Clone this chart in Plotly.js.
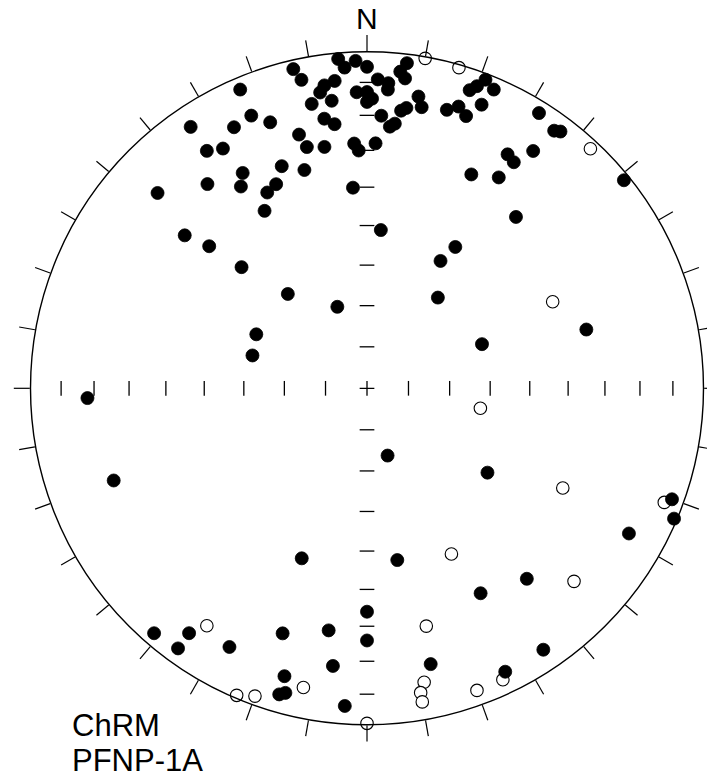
<!DOCTYPE html>
<html>
<head>
<meta charset="utf-8">
<script src="https://cdn.plot.ly/plotly-3.0.1.min.js"></script>
<style>html,body{margin:0;padding:0;background:#fff;}#plot{width:707px;height:780px;}</style>
</head>
<body>
<div id="plot"></div>
<script>
// ChRM directions, site PFNP-1A: declination (deg) and inclination (deg, negative = upper hemisphere)
const dec = [
  355,356,358,0,7,6,7,347,348,354,352,351,353,349,358,0,1,0,2,4,4,
  351,353,3,5,6,7,8,10,11,16,18,20,19,20,21,22,23,
  337,340,345,346,350,357,358,2,339,344,336,333,356,26,32,32,36,37,51,
  31,33,35,41,32,30,38,5,337,326,333,326,329,330,322,328,330,313,310,312,314,
  320,340,296,286,69,75,
  268,250,163,125,201,170,110,113,119,151,140,146,154,180,199,189,180,187,167,
  196,196,195,184,221,216,216,208,
  10,16,43,65,100,117,111,133,153,166,155,160,192,200,203,214,169,170,170,180
];
const inc = [
  2,5,3,5,3,6,8,3,7,9,10,12,15,15,13,13,15,16,9,10,12,
  20,22,20,23,22,18,17,13,16,15,13,15,7,5,2,10,4,
  13,17,23,27,28,28,30,28,30,33,34,35,40,30,27,4,6,5,2,
  20,21,15,33,49,54,62,51,4,7,14,16,18,27,24,30,39,16,30,37,47,
  60,69,60,61,60,33,
  18,21,73,54,45,47,4,1,12,31,27,7,7,34,24,28,26,18,17,
  12,6,7,6,4,5,11,14,
  -0.5,-1,-3,-39,-62,-35,-6,-17,-44,-28,-5,-5,-10,-3,-1,-16,-12,-9,-6,-0.5
];
const tickInc = [10,20,30,40,50,60,70,80];
const tickAz = [0,10,20,30,40,50,60,70,80,90,100,110,120,130,140,150,160,170,
                180,190,200,210,220,230,240,250,260,270,280,290,300,310,320,330,340,350];
const labelTop = "N";
const labelLines = ["ChRM", "PFNP-1A"];

// Lambert equal-area radius (unit circle = horizontal)
function eqArea(i) { return Math.SQRT2 * Math.sin((90 - Math.abs(i)) / 2 * Math.PI / 180); }

const dn = [], rn = [], du = [], ru = [];
for (let k = 0; k < dec.length; k++) {
  if (inc[k] >= 0) { dn.push(dec[k]); rn.push(eqArea(inc[k])); }
  else { du.push(dec[k]); ru.push(eqArea(inc[k])); }
}

// inner axis ticks
const tNS_r = [], tNS_t = [], tEW_r = [], tEW_t = [];
tickInc.forEach(function (t) {
  const r = eqArea(t);
  tEW_r.push(r, r); tEW_t.push(0, 180);
  tNS_r.push(r, r); tNS_t.push(90, 270);
});

const traces = [
  { type: 'scatterpolar', mode: 'markers', r: tEW_r, theta: tEW_t, hoverinfo: 'skip',
    marker: { symbol: 'line-ew', size: 10.5, color: 'black', line: { width: 1.3, color: 'black' } } },
  { type: 'scatterpolar', mode: 'markers', r: tNS_r, theta: tNS_t, hoverinfo: 'skip',
    marker: { symbol: 'line-ns', size: 10.5, color: 'black', line: { width: 1.3, color: 'black' } } },
  { type: 'scatterpolar', mode: 'markers', r: [0], theta: [0], hoverinfo: 'skip',
    marker: { symbol: 'cross-thin', size: 10.5, color: 'black', line: { width: 1.3, color: 'black' } } },
  { type: 'scatterpolar', mode: 'markers', r: ru, theta: du, name: 'upper',
    marker: { symbol: 'circle', size: 12.5, color: 'white', line: { width: 1.1, color: 'black' } } },
  { type: 'scatterpolar', mode: 'markers', r: rn, theta: dn, name: 'lower',
    marker: { symbol: 'circle', size: 13, color: 'black', line: { width: 0.8, color: 'black' } } }
];

const cx = 367, cy = 388.3, R = 336.5, W = 707, H = 780;
const layout = {
  width: W, height: H,
  margin: { l: 0, r: 0, t: 0, b: 0 },
  paper_bgcolor: 'white',
  showlegend: false,
  font: { family: 'Liberation Sans, Arial, sans-serif', color: 'black' },
  polar: {
    domain: { x: [(cx - R) / W, (cx + R) / W], y: [(H - cy - R) / H, (H - cy + R) / H] },
    bgcolor: 'white',
    angularaxis: {
      rotation: 90, direction: 'clockwise',
      showgrid: false, showline: true, linecolor: 'black', linewidth: 1.4,
      ticks: 'outside', ticklen: 16, tickwidth: 1.2, tickcolor: 'black',
      tickmode: 'array', tickvals: tickAz, showticklabels: false
    },
    radialaxis: { range: [0, 1], visible: false, showgrid: false, showline: false, showticklabels: false, ticks: '' }
  },
  annotations: [
    { text: labelTop, xref: 'paper', yref: 'paper', x: cx / W, y: (H - 18) / H,
      xanchor: 'center', yanchor: 'middle', showarrow: false, font: { size: 30, color: 'black' } },
    { text: labelLines[0], xref: 'paper', yref: 'paper', x: 70 / W, y: (H - 725) / H,
      xanchor: 'left', yanchor: 'middle', showarrow: false, font: { size: 31, color: 'black' } },
    { text: labelLines[1], xref: 'paper', yref: 'paper', x: 70 / W, y: (H - 760) / H,
      xanchor: 'left', yanchor: 'middle', showarrow: false, font: { size: 31, color: 'black' } }
  ]
};

Plotly.newPlot('plot', traces, layout, { displayModeBar: false, staticPlot: true });
</script>
</body>
</html>
